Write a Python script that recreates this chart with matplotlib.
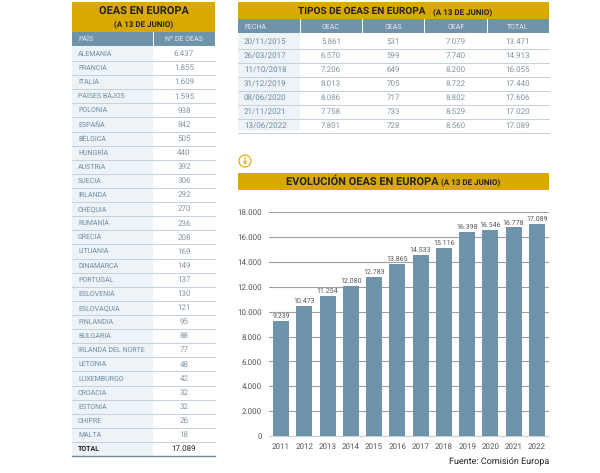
# -*- coding: utf-8 -*-
import matplotlib
matplotlib.use('Agg')
import matplotlib.pyplot as plt
from matplotlib.patches import Rectangle, Circle

###############################################################################
''' Data '''
paises = ['ALEMANIA', 'FRANCIA', 'ITALIA', 'PAÍSES BAJOS', 'POLONIA', 'ESPAÑA', 'BÉLGICA',
          'HUNGRÍA', 'AUSTRIA', 'SUECIA', 'IRLANDA', 'CHEQUIA', 'RUMANÍA', 'GRECIA', 'LITUANIA',
          'DINAMARCA', 'PORTUGAL', 'ESLOVENIA', 'ESLOVAQUIA', 'FINLANDIA', 'BULGARIA',
          'IRLANDA DEL NORTE', 'LETONIA', 'LUXEMBURGO', 'CROACIA', 'ESTONIA', 'CHIPRE', 'MALTA']
n_oeas = ['6.437', '1.855', '1.609', '1.595', '938', '842', '505', '440', '392', '306', '292',
          '270', '236', '208', '169', '149', '137', '130', '121', '95', '88', '77', '48', '42',
          '32', '32', '26', '18']

tipos_cols = ['FECHA', 'OEAC', 'OEAS', 'OEAF', 'TOTAL']
fechas = ['20/11/2015', '26/03/2017', '11/10/2018', '31/12/2019', '08/06/2020', '21/11/2021', '13/06/2022']
oeac = ['5.861', '6.570', '7.206', '8.013', '8.086', '7.758', '7.801']
oeas = ['531', '599', '649', '705', '717', '733', '728']
oeaf = ['7.079', '7.740', '8.200', '8.722', '8.802', '8.529', '8.560']
totales = ['13.471', '14.913', '16.055', '17.440', '17.606', '17.020', '17.089']

years = [2011, 2012, 2013, 2014, 2015, 2016, 2017, 2018, 2019, 2020, 2021, 2022]
evolucion = [9239, 10473, 11254, 12080, 12783, 13865, 14533, 15116, 16398, 16546, 16778, 17089]

###############################################################################
''' Style '''
YELLOW = '#d9a900'
BLUE = '#6f93ab'
SHADE = '#e9f0f5'
LINE = '#c3d1db'
TEXT = '#6f8ca3'
VALUE = '#83949f'
DARK = '#222222'
plt.rcParams['font.family'] = ['Roboto', 'DejaVu Sans']
plt.rcParams['text.hinting'] = 'no_hinting'
plt.rcParams['text.hinting_factor'] = 1


def fmt(v):
    return '{:,}'.format(v).replace(',', '.')


fig = plt.figure(figsize=(6, 4.73), dpi=100)
page = fig.add_axes([0, 0, 1, 1])
page.set_xlim(0, 600)
page.set_ylim(473, 0)
page.axis('off')

###############################################################################
''' Left table '''
page.add_patch(Rectangle((72, 2), 143, 30, color=YELLOW, lw=0))
page.text(143.5, 11.5, 'OEAS EN EUROPA', ha='center', va='center', fontsize=7.8, fontweight='bold', color=DARK)
page.text(143.5, 25, '(A 13 DE JUNIO)', ha='center', va='center', fontsize=5.7, fontweight='bold', color=DARK)
page.add_patch(Rectangle((72, 32), 143, 14, color=BLUE, lw=0))
page.plot([153, 153], [32, 46], color='white', lw=0.7)
page.text(78, 39.5, 'PAÍS', va='center', fontsize=5.2, color='#e4ecf1')
page.text(184, 39.5, 'Nº DE OEAS', ha='center', va='center', fontsize=5.1, color='#e4ecf1')
page.add_patch(Rectangle((72, 46), 81, 410, color=SHADE, lw=0, alpha=0.8))

row_h = 14.11
for i, (p, n) in enumerate(zip(paises, n_oeas)):
    y = 54 + i * row_h
    page.text(78, y, p, va='center', fontsize=5.4, color=TEXT)
    page.text(184, y, n, ha='center', va='center', fontsize=5.9, color=VALUE)
    page.plot([72, 215], [y + 7, y + 7], color=LINE, lw=0.7)
y_total = 54 + 28 * row_h
page.text(78, y_total, 'TOTAL', va='center', fontsize=5.3, fontweight='bold', color=DARK)
page.text(184, y_total, '17.089', ha='center', va='center', fontsize=6, color=DARK)
page.plot([72, 215], [y_total + 7, y_total + 7], color='#6d8a9f', lw=1.0)

###############################################################################
''' Top table '''
page.add_patch(Rectangle((238, 2), 311, 17, color=YELLOW, lw=0))
page.text(362, 11.5, 'TIPOS DE OEAS EN EUROPA', ha='center', va='center', fontsize=7.5, fontweight='bold', color=DARK)
page.text(463, 12.5, '(A 13 DE JUNIO)', ha='center', va='center', fontsize=5.7, fontweight='bold', color=DARK)
page.add_patch(Rectangle((238, 19.5), 311, 14, color=BLUE, lw=0))
page.add_patch(Rectangle((238, 33.5), 62, 98, color=SHADE, lw=0, alpha=0.8))

col_x = [244, 331, 393, 456, 518]
for cx, c in zip(col_x, tipos_cols):
    page.text(cx, 27.5, c, ha='left' if c == 'FECHA' else 'center', va='center', fontsize=5.2, color='#e4ecf1')
for xs in [300, 362, 424, 487]:
    page.plot([xs, xs], [19.5, 33.5], color='white', lw=0.7)

for i, row in enumerate(zip(fechas, oeac, oeas, oeaf, totales)):
    y = 42 + i * 14.03
    page.text(col_x[0], y, row[0], va='center', fontsize=5.6, color=TEXT)
    for cx, v in zip(col_x[1:], row[1:]):
        page.text(cx, y, v, ha='center', va='center', fontsize=5.9, color=VALUE)
    page.plot([238, 549], [y + 7, y + 7], color=LINE, lw=0.7)

# flecha
page.add_patch(Circle((245, 161), 6, fill=False, ec=YELLOW, lw=0.8))
page.annotate('', xy=(245, 165), xytext=(245, 157),
              arrowprops=dict(arrowstyle='->', color=YELLOW, lw=0.7, mutation_scale=5, shrinkA=0, shrinkB=0))

###############################################################################
''' Bars '''
page.add_patch(Rectangle((238, 173), 311, 17, color=YELLOW, lw=0))
page.text(362, 182, 'EVOLUCIÓN OEAS EN EUROPA', ha='center', va='center', fontsize=7.8, fontweight='bold', color=DARK)
page.text(471, 183, '(A 13 DE JUNIO)', ha='center', va='center', fontsize=5.7, fontweight='bold', color=DARK)

ax = fig.add_axes([269 / 600, (473 - 436) / 473, 280 / 600, 223.7 / 473])
ax.bar(years, evolucion, width=0.69, color=BLUE, zorder=3)
for yr, v in zip(years, evolucion):
    ax.text(yr, v + 130, fmt(v), ha='center', va='bottom', fontsize=4.9, color='#555555')
ax.set_xlim(2010.48, 2022.52)
ax.set_ylim(0, 18000)
ax.set_yticks(range(0, 18001, 2000))
ax.set_yticklabels([fmt(t) for t in range(0, 18001, 2000)], fontsize=5.8, color='#555555')
ax.set_xticks(years)
ax.set_xticklabels(years, fontsize=5.7, color='#555555')
ax.tick_params(length=0, pad=5)
ax.grid(axis='y', color='#a0a0a0', lw=0.8, zorder=0)
ax.patch.set_alpha(0)
for s in ax.spines.values():
    s.set_visible(False)
ax.spines['bottom'].set_visible(True)
ax.spines['bottom'].set_color('#c8d0d6')

page.text(549, 462, 'Fuente: Comisión Europa', ha='right', va='center', fontsize=6.2, color=DARK)

fig.savefig('out.png', dpi=100)
